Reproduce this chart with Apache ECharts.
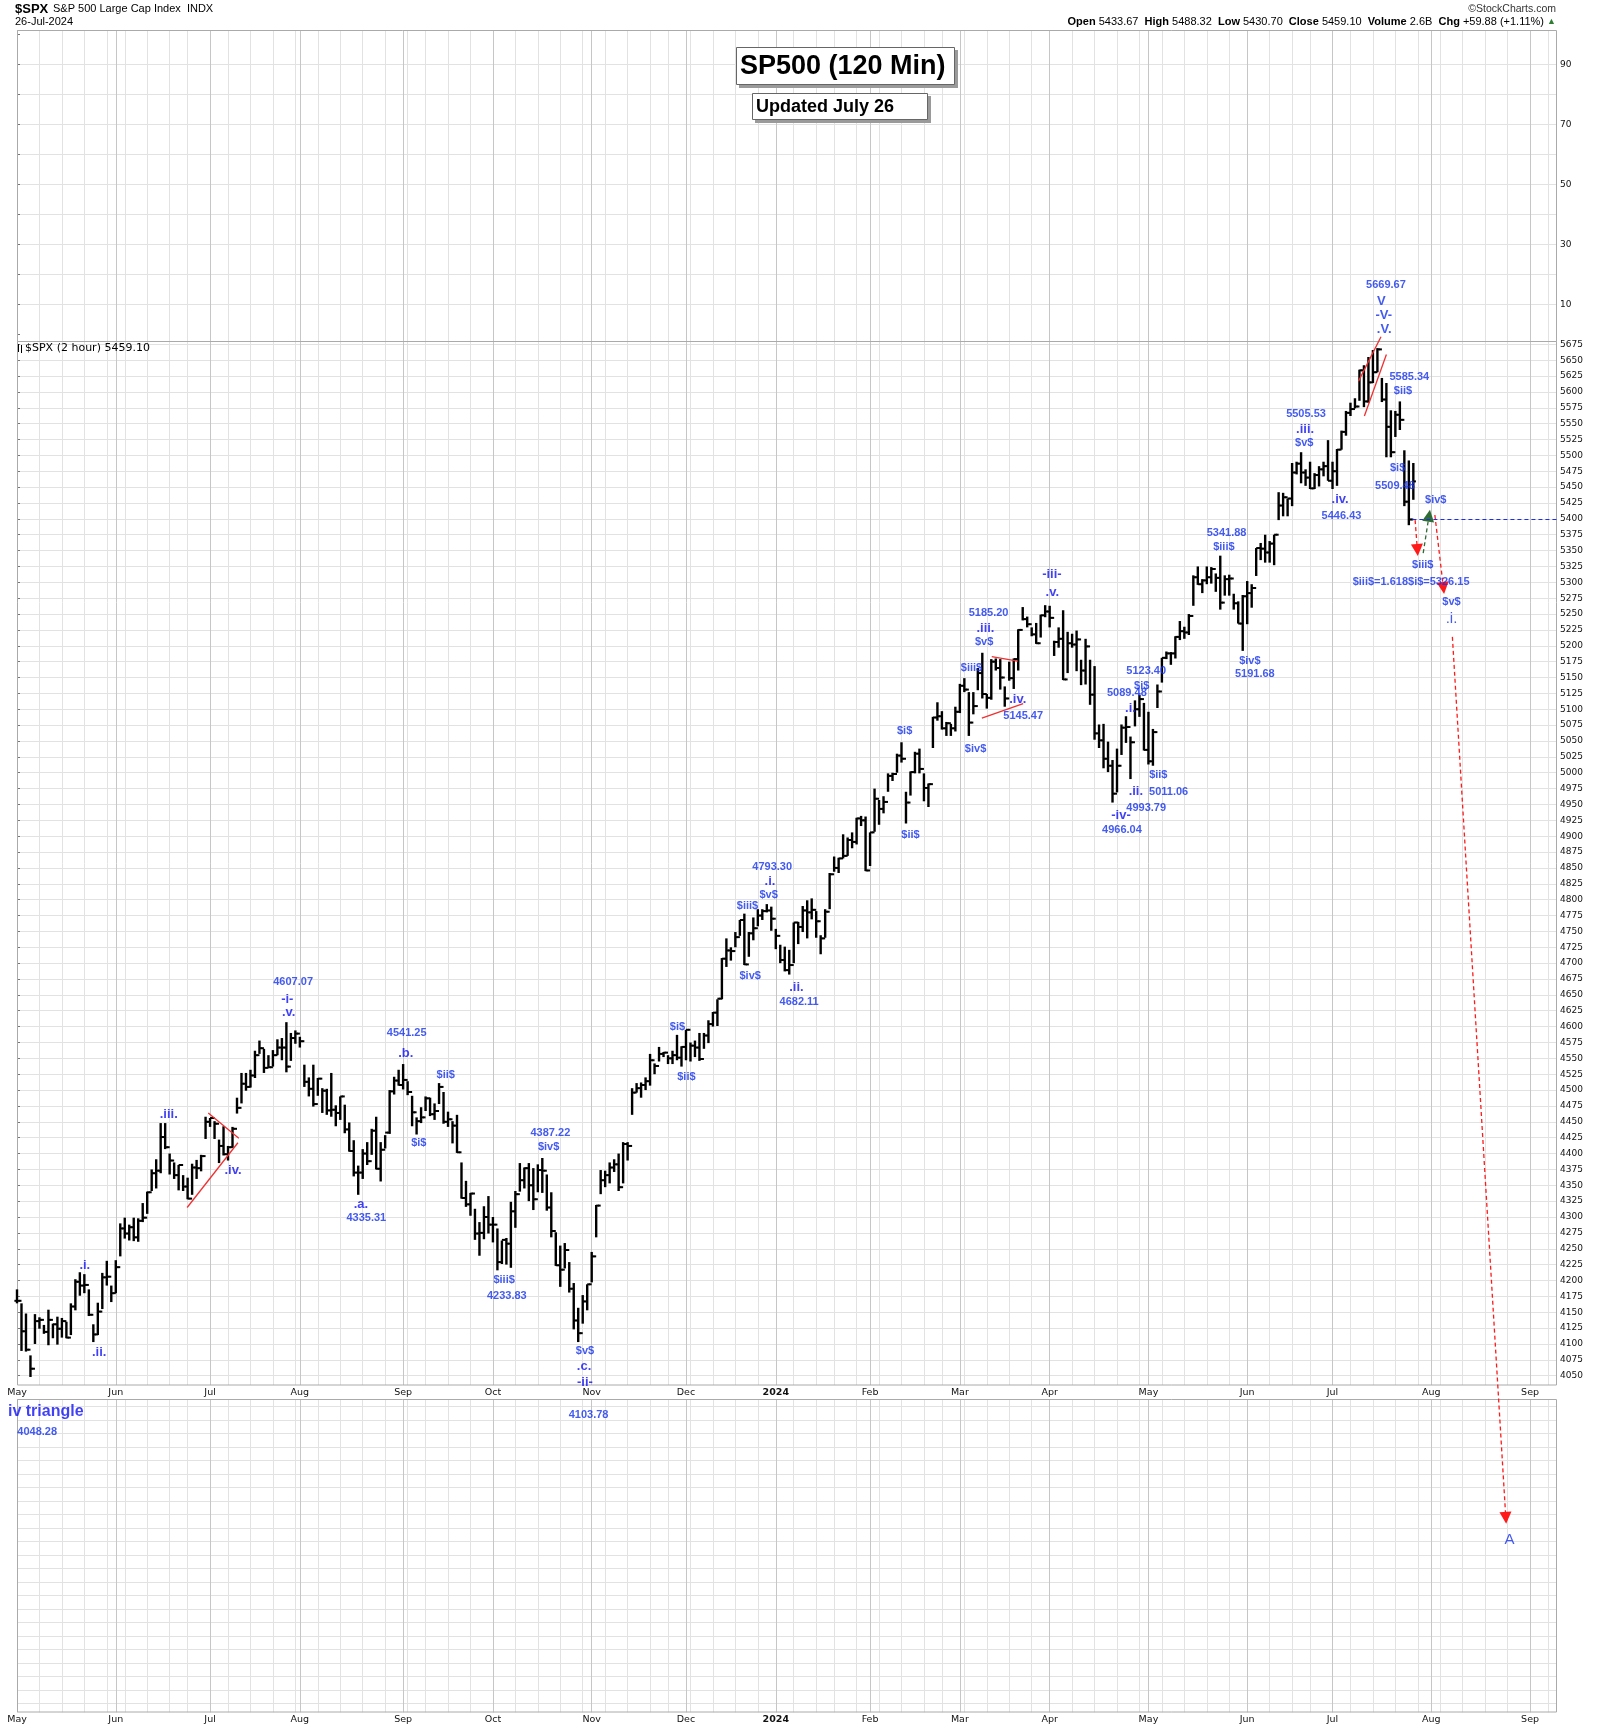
<!DOCTYPE html>
<html><head><meta charset="utf-8">
<script src="https://cdn.jsdelivr.net/npm/echarts@6/dist/echarts.min.js"></script>
<style>html,body{margin:0;padding:0;background:#fff}#c{width:1600px;height:1728px}</style>
</head><body><div id="c"></div>
<script>
// ---------- categories: trading sessions ----------
const holidays = ['2023-05-29','2023-06-19','2023-07-04','2023-09-04','2023-11-23','2023-12-25',
  '2024-01-01','2024-01-15','2024-02-19','2024-03-29','2024-05-27','2024-06-19','2024-07-04','2024-09-02'];
function buildSessions(start, count){
  const out=[]; const d=new Date(start+'T00:00:00Z');
  while(out.length<count){ const w=d.getUTCDay(); const s=d.toISOString().slice(0,10);
    if(w!==0&&w!==6&&holidays.indexOf(s)<0) out.push(s); d.setUTCDate(d.getUTCDate()+1); }
  return out;
}
const sessions = buildSessions('2023-05-01', 344);
const monthNames = ['Jan','Feb','Mar','Apr','May','Jun','Jul','Aug','Sep','Oct','Nov','Dec'];

// ---------- daily values ----------
const highs = [
 4186,4164,4148,4082,4147,4142,4130,4154,4132,4143,4141,4135,4164,4202,4213,4210,4186,4131,4165,4212,4231,4192,
 4232,4290,4299,4288,4299,4298,4322,4340,4375,4391,4448,4448,4400,4386,4382,4366,4362,4384,4390,4398,4458,
 4456,4451,4422,4443,4412,4442,4488,4527,4527,4532,4562,4578,4565,4555,4563,4580,4582,4607,4590,4594,
 4584,4540,4520,4540,4519,4503,4502,4527,4476,4490,4477,4449,4421,4381,4407,4418,4439,4458,4418,4429,4500,4521,4532,
 4541,4514,4491,4457,4473,4490,4488,4479,4511,4497,4466,4451,4461,4386,4357,4338,4313,4292,4317,4333,
 4300,4282,4263,4267,4324,4341,4385,4378,4385,4377,4383,4393,4367,4339,4276,4255,4259,4229,4196,4157,4177,4194,
 4245,4319,4374,4373,4386,4391,4400,4418,4418,4503,4511,4512,4520,4557,4542,4568,4560,4555,4562,4587,4569,
 4595,4575,4578,4590,4590,4610,4623,4643,4708,4739,4725,4749,4768,4778,4749,4772,4785,4785,4793,4789,
 4754,4729,4726,4721,4764,4765,4790,4799,4802,4782,4744,4785,4842,4868,4866,4903,4898,4906,4929,4932,4931,
 4906,4975,4957,4963,4999,5000,5030,5048,4970,5002,5033,5038,4999,4983,5088,5111,5097,5080,5077,5104,
 5140,5149,5127,5127,5165,5189,5124,5179,5180,5179,5136,5175,5180,5226,5261,5246,5229,5236,5249,5264,
 5263,5208,5229,5256,5222,5219,5224,5178,5211,5178,5168,5076,5077,5049,5020,5038,5076,5089,5057,5114,5123,5110,
 5096,5069,5139,5181,5191,5190,5215,5239,5230,5250,5311,5325,5305,5325,5324,5314,5342,5311,5312,5282,5270,5280,
 5302,5297,5354,5362,5375,5365,5375,5442,5441,5432,5488,5490,5505,5478,5490,5472,5483,5490,5524,
 5490,5510,5539,5570,5583,5590,5635,5642,5655,5666,5669,5622,5614,5571,5570,5585,5508,5492,5488
];
const lows = [
 4164,4089,4088,4048,4100,4124,4116,4098,4109,4099,4110,4109,4114,4153,4176,4180,4144,4103,4114,4155,4192,4166,
 4180,4238,4266,4263,4262,4261,4292,4305,4341,4345,4369,4407,4367,4360,4342,4341,4328,4335,4360,4372,4423,
 4442,4423,4385,4397,4389,4409,4463,4479,4499,4504,4519,4557,4527,4535,4537,4555,4547,4528,4546,4573,
 4567,4505,4490,4474,4491,4464,4461,4458,4443,4453,4432,4403,4364,4335,4360,4382,4398,4375,4356,4408,4431,4493,4507,
 4501,4492,4443,4430,4448,4467,4459,4453,4478,4447,4442,4416,4401,4329,4316,4302,4264,4239,4265,4274,
 4260,4216,4226,4225,4220,4283,4340,4345,4325,4311,4339,4338,4310,4268,4223,4190,4219,4181,4123,4103,4132,4153,
 4197,4268,4336,4347,4353,4371,4341,4353,4389,4461,4496,4488,4500,4507,4525,4545,4552,4541,4541,4547,4537,
 4547,4545,4552,4546,4565,4574,4600,4601,4643,4694,4704,4725,4743,4697,4710,4736,4758,4768,4780,4751,
 4722,4700,4687,4682,4700,4730,4749,4739,4769,4740,4714,4740,4785,4844,4842,4865,4869,4881,4887,4916,4845,
 4853,4907,4918,4936,4970,4987,5000,5016,4920,4964,4999,4999,4955,4946,5039,5082,5068,5058,5058,5065,
 5094,5127,5058,5092,5130,5117,5101,5115,5161,5131,5104,5145,5132,5161,5240,5229,5215,5203,5213,5245,
 5229,5184,5197,5146,5157,5197,5160,5138,5139,5107,5052,5039,5007,5001,4953,4969,5028,5047,4990,5073,5088,5035,
 5013,5011,5102,5142,5179,5170,5180,5209,5211,5217,5263,5296,5283,5297,5298,5285,5257,5279,5279,5257,5235,5192,
 5234,5260,5310,5335,5331,5331,5327,5398,5404,5404,5420,5470,5456,5452,5447,5447,5451,5467,5460,
 5447,5452,5509,5531,5562,5574,5586,5576,5583,5614,5631,5584,5497,5497,5529,5540,5420,5390,5430
];
const closes = [
 4168,4120,4091,4061,4136,4138,4119,4138,4131,4124,4136,4110,4159,4198,4192,4193,4146,4115,4151,4205,4206,4180,
 4221,4282,4274,4284,4268,4294,4299,4339,4369,4373,4426,4410,4389,4366,4382,4348,4329,4378,4377,4396,4450,
 4456,4447,4412,4399,4410,4439,4472,4510,4505,4523,4555,4566,4535,4536,4555,4567,4567,4537,4582,4589,
 4577,4513,4502,4478,4518,4499,4468,4469,4464,4490,4438,4404,4370,4370,4400,4388,4436,4376,4406,4433,4498,4515,4508,
 4516,4497,4465,4451,4457,4487,4462,4467,4505,4450,4454,4444,4402,4330,4320,4337,4274,4275,4300,4288,
 4288,4229,4264,4258,4309,4336,4358,4377,4350,4328,4374,4373,4315,4278,4224,4217,4248,4187,4137,4117,4167,4194,
 4238,4318,4358,4366,4378,4383,4347,4415,4412,4496,4503,4508,4514,4547,4538,4557,4559,4550,4555,4551,4568,
 4595,4570,4567,4549,4586,4604,4622,4644,4707,4720,4719,4741,4768,4698,4747,4755,4775,4782,4783,4770,
 4743,4705,4689,4697,4764,4757,4783,4780,4784,4766,4739,4781,4840,4850,4865,4869,4894,4891,4928,4925,4846,
 4906,4959,4943,4954,4995,4998,5027,5022,4953,5001,5030,5006,4976,4982,5087,5089,5070,5078,5070,5096,
 5137,5131,5079,5105,5157,5124,5118,5175,5165,5150,5117,5149,5179,5225,5242,5234,5218,5204,5248,5254,
 5244,5206,5211,5147,5204,5202,5210,5161,5199,5123,5062,5051,5022,5011,4967,5011,5071,5072,5048,5100,5116,5036,
 5018,5064,5128,5181,5188,5188,5214,5223,5221,5247,5308,5297,5303,5308,5321,5307,5268,5305,5306,5267,5235,5278,
 5283,5291,5354,5353,5347,5361,5375,5421,5434,5432,5473,5487,5473,5465,5448,5469,5478,5483,5460,
 5475,5509,5537,5567,5573,5577,5634,5585,5615,5631,5667,5588,5545,5505,5564,5556,5427,5399,5459
];

// wave annotations: [session position, price level, text, kind]
const waveLabels = [
 [15.1,4224,'.i.','w'],[18.3,4087,'.ii.','w'],[33.8,4462,'.iii.','w'],[48.1,4374,'.iv.','w'],
 [61.5,4670,'4607.07','n'],[60.2,4643,'-i-','w'],[60.5,4623,'.v.','w'],
 [86.8,4590,'4541.25','n'],[86.6,4558,'.b.','w'],[95.5,4524,'$ii$','n'],[89.5,4416,'$i$','n'],
 [76.6,4320,'.a.','w'],[77.8,4299,'4335.31','n'],
 [118.8,4433,'4387.22','n'],[118.4,4411,'$iv$','n'],[108.5,4201,'$iii$','n'],[109.1,4175,'4233.83','n'],
 [126.5,4089,'$v$','n'],[126.3,4065,'.c.','w'],[126.5,4039,'-ii-','w'],[127.3,3988,'4103.78','n'],
 [6.4,3993,'iv triangle','big'],[4.5,3961,'4048.28','n'],
 [147.1,4599,'$i$','n'],[149.1,4520,'$ii$','n'],
 [168.2,4852,'4793.30','n'],[167.7,4828,'.i.','w'],[167.4,4807,'$v$','n'],[162.7,4790,'$iii$','n'],
 [163.3,4680,'$iv$','n'],[173.6,4661,'.ii.','w'],[174.2,4639,'4682.11','n'],
 [197.7,5066,'$i$','n'],[199.0,4902,'$ii$','n'],
 [216.4,5252,'5185.20','n'],[215.7,5228,'.iii.','w'],[215.4,5206,'$v$','n'],[212.6,5165,'$iii$','n'],
 [213.5,5037,'$iv$','n'],[222.9,5116,'.iv.','w'],[224.1,5089,'5145.47','n'],
 [230.5,5313,'-iii-','w'],[230.6,5284,'.v.','w'],
 [251.5,5160,'5123.40','n'],[250.5,5137,'$i$','n'],[247.2,5125,'5089.48','n'],[248.0,5101,'.i.','w'],
 [254.2,4996,'$ii$','n'],[249.2,4970,'.ii.','w'],[256.5,4970,'5011.06','n'],[251.5,4945,'4993.79','n'],
 [245.9,4932,'-iv-','w'],[246.1,4910,'4966.04','n'],
 [269.4,5377,'5341.88','n'],[268.8,5356,'$iii$','n'],[274.6,5176,'$iv$','n'],[275.7,5155,'5191.68','n'],
 [287.1,5565,'5505.53','n'],[286.9,5541,'.iii.','w'],[286.7,5520,'$v$','n'],
 [294.7,5430,'.iv.','w'],[295.0,5404,'5446.43','n'],
 [304.9,5768,'5669.67','n'],[303.9,5743,'V','wb'],[304.4,5721,'-V-','wb'],[304.5,5699,'.V.','wb'],
 [310.1,5623,'5585.34','n'],[308.7,5602,'$ii$','n'],[307.5,5480,'$i$','n'],[306.9,5452,'5509.48','n'],
 [316.0,5430,'$iv$','n'],[313.1,5327,'$iii$','n'],[310.5,5300,'$iii$=1.618$i$=5326.15','n'],
 [319.5,5269,'$v$','n'],[319.5,5243,'.i.','w15'],[332.4,3792,'A','A']
];
// trend lines (solid red): [[pos,price],[pos,price]]
const trendLines = [
 [[37.9,4315],[49.2,4417]],[[42.6,4464],[49.4,4424]],
 [[217.1,5183],[222.9,5176]],[[214.9,5086],[224.1,5109]],
 [[298.8,5617],[303.8,5687]],[[300.1,5562],[305.0,5659]]
];
// projected paths (dashed arrows)
const redProjections = [
 [[311.4,5398],[311.9,5351]],[[315.8,5406],[317.7,5291]],[[319.7,5214],[331.6,3826]]
];
const greenProjections = [ [[313.2,5346],[314.5,5405]] ];
const supportLine = [ [[310.8,5400],[343,5400]] ];

// ---------- helpers ----------
const dow = s => new Date(s+'T00:00:00Z').getUTCDay();
const weekFirst = sessions.map((s,i)=> i===0 || dow(s) <= dow(sessions[i-1]));
const monthFirst = sessions.map((s,i)=> i===0 || s.slice(5,7)!==sessions[i-1].slice(5,7));
const monthLabel = v => { const m=+v.slice(5,7); return m===1 ? '{y|'+v.slice(0,4)+'}' : monthNames[m-1]; };
const FONT = "'Liberation Sans', Arial, sans-serif";
const AXFONT = "'DejaVu Sans', Verdana, sans-serif";
const BLUE = '#1432ee';
const GRID_LIGHT = '#e2e2e2', GRID_DARK = '#c6c6c6';
const kindStyle = {
  n:{fontSize:11,fontWeight:'bold'}, w:{fontSize:13,fontWeight:'bold'}, wb:{fontSize:13,fontWeight:'bold'},
  w15:{fontSize:15,fontWeight:'normal'}, big:{fontSize:16,fontWeight:'bold'}, A:{fontSize:15,fontWeight:'normal'}
};

const bars = highs.map((h,i)=>[i, lows[i], h, closes[i], i>0 ? closes[i-1] : closes[i]]);

function panelXAxes(gridIndex, labelMargin){
  return [
    {type:'category', gridIndex, data:sessions, boundaryGap:false, position:'top', silent:true,
     axisLine:{show:false}, axisTick:{show:false}, axisLabel:{show:false},
     splitLine:{show:true, interval:(i)=>weekFirst[i], lineStyle:{color:GRID_LIGHT, width:1}}},
    {type:'category', gridIndex, data:sessions, boundaryGap:false, position:'bottom', silent:true,
     axisLine:{show:false}, axisTick:{show:false},
     axisLabel: labelMargin==null ? {show:false} : {show:true, interval:(i)=>monthFirst[i], margin:labelMargin,
       formatter:monthLabel, color:'#111', fontFamily:AXFONT, fontSize:9.5,
       rich:{y:{fontWeight:'bold', fontFamily:AXFONT, fontSize:9.5, color:'#111'}}},
     splitLine:{show:true, interval:(i)=>monthFirst[i], lineStyle:{color:GRID_DARK, width:1}}},
  ];
}
const hiddenX = g => ({type:'value', gridIndex:g, min:0, max:343, show:false});
const hiddenY = g => ({type:'value', gridIndex:g, min:0, max:1, show:false});
const tickStyle = {show:true, length:3, lineStyle:{color:'#777'}};

const topLineColors = ['rgba(0,0,0,0)'].concat(Array(9).fill(GRID_LIGHT)).concat(['rgba(0,0,0,0)']);

const option = {
  animation:false,
  backgroundColor:'#fff',
  grid:[
    {left:17, top:30, width:1540, height:311.7},
    {left:17, top:34.3, width:1540, height:300},
    {left:17, top:341.7, width:1540, height:1043.3},
    {left:17, top:344.3, width:1540, height:1031.4},
    {left:17, top:1399.3, width:1540, height:313},
    {left:17, top:1406.7, width:1540, height:296.6}
  ],
  xAxis:[].concat(panelXAxes(0,null), [hiddenX(1)], panelXAxes(2,3), [hiddenX(3)], panelXAxes(4,2), [hiddenX(5)]),
  yAxis:[
    hiddenY(0),
    {type:'value', gridIndex:1, min:0, max:100, interval:10, position:'right', silent:true,
     axisLine:{show:false}, axisTick:tickStyle,
     axisLabel:{margin:3, formatter:v=>(v%20===10?String(v):''), fontFamily:AXFONT, fontSize:9, color:'#111'},
     splitLine:{show:true, lineStyle:{color:topLineColors, width:1}}},
    hiddenY(2),
    {type:'value', gridIndex:3, min:4050, max:5675, interval:25, position:'right', silent:true,
     axisLine:{show:false}, axisTick:tickStyle,
     axisLabel:{margin:3, formatter:v=>String(v), fontFamily:AXFONT, fontSize:9, color:'#111'},
     splitLine:{show:true, lineStyle:{color:GRID_LIGHT, width:1}}},
    hiddenY(4),
    {type:'value', gridIndex:5, min:0, max:22, interval:1, silent:true,
     axisLine:{show:false}, axisTick:{show:false}, axisLabel:{show:false},
     splitLine:{show:true, lineStyle:{color:GRID_LIGHT, width:1}}}
  ],
  series:[
    {type:'custom', name:'$SPX', xAxisIndex:5, yAxisIndex:3, clip:false, z:3, silent:true,
     encode:{x:0, y:[1,2]}, data:bars,
     renderItem:(params, api)=>{
       const i=api.value(0);
       const hi=api.coord([i, api.value(2)]), lo=api.coord([i, api.value(1)]);
       const cl=api.coord([i, api.value(3)]), op=api.coord([i, api.value(4)]);
       const x=hi[0];
       return {type:'group', children:[
         {type:'rect', shape:{x:x-1.2, y:hi[1], width:2.4, height:Math.max(1.5, lo[1]-hi[1])}, style:{fill:'#000'}},
         {type:'rect', shape:{x:x-2.6, y:op[1]-1, width:2.6, height:2}, style:{fill:'#000'}},
         {type:'rect', shape:{x:x, y:cl[1]-1, width:2.6, height:2}, style:{fill:'#000'}}
       ]};
     }},
    {type:'lines', coordinateSystem:'cartesian2d', xAxisIndex:5, yAxisIndex:3, clip:false, silent:true, z:4,
     symbol:'none', lineStyle:{color:'#f03030', width:1.3, opacity:1},
     data:trendLines.map(c=>({coords:c}))},
    {type:'lines', coordinateSystem:'cartesian2d', xAxisIndex:5, yAxisIndex:3, clip:false, silent:true, z:4,
     symbol:['none','triangle'], symbolSize:12, lineStyle:{color:'#ff1a1a', width:1.3, type:[4,3], opacity:1},
     data:redProjections.map(c=>({coords:c}))},
    {type:'lines', coordinateSystem:'cartesian2d', xAxisIndex:5, yAxisIndex:3, clip:false, silent:true, z:4,
     symbol:['none','triangle'], symbolSize:12, lineStyle:{color:'#2f6b35', width:1.3, type:[4,3], opacity:1},
     data:greenProjections.map(c=>({coords:c}))},
    {type:'lines', coordinateSystem:'cartesian2d', xAxisIndex:5, yAxisIndex:3, clip:false, silent:true, z:4,
     symbol:'none', lineStyle:{color:'#1a2cf0', width:1.2, type:[4,3], opacity:1},
     data:supportLine.map(c=>({coords:c}))},
    {type:'scatter', xAxisIndex:5, yAxisIndex:3, clip:false, silent:true, z:6, symbolSize:1,
     itemStyle:{color:'rgba(0,0,0,0)'},
     label:{show:true, position:'inside', formatter:'{b}', color:BLUE, fontFamily:FONT},
     labelLayout:{hideOverlap:false},
     data:waveLabels.map(a=>({name:a[2], value:[a[0],a[1]],
       label:Object.assign({color: (a[3]==='big'||a[3]==='w') ? '#1010f4' : BLUE}, kindStyle[a[3]])}))}
  ],
  graphic:[
    // panel frames
    {type:'rect', z:1, silent:true, shape:{x:17.5,y:30.5,width:1539,height:311}, style:{fill:'none',stroke:'#aaaaaa',lineWidth:1}},
    {type:'rect', z:1, silent:true, shape:{x:17.5,y:341.5,width:1539,height:1043.5}, style:{fill:'none',stroke:'#aaaaaa',lineWidth:1}},
    {type:'rect', z:1, silent:true, shape:{x:17.5,y:1399.5,width:1539,height:312.5}, style:{fill:'none',stroke:'#aaaaaa',lineWidth:1}},
    // header
    {type:'text', z:10, x:15, y:9, style:{text:'$SPX', fontFamily:FONT, fontSize:13, fontWeight:'bold', fill:'#000', verticalAlign:'middle', textVerticalAlign:'middle'}},
    {type:'text', z:10, x:53, y:9, style:{text:'S&P 500 Large Cap Index  INDX', fontFamily:FONT, fontSize:11, fill:'#000', verticalAlign:'middle', textVerticalAlign:'middle'}},
    {type:'text', z:10, x:15, y:22, style:{text:'26-Jul-2024', fontFamily:FONT, fontSize:11, fill:'#000', verticalAlign:'middle', textVerticalAlign:'middle'}},
    {type:'text', z:10, x:1556, y:9, style:{text:'\u00A9StockCharts.com', fontFamily:FONT, fontSize:10.5, fill:'#333', align:'right', textAlign:'right', verticalAlign:'middle', textVerticalAlign:'middle'}},
    {type:'text', z:10, x:1556, y:22, style:{
      text:'{b|Open} 5433.67  {b|High} 5488.32  {b|Low} 5430.70  {b|Close} 5459.10  {b|Volume} 2.6B  {b|Chg} +59.88 (+1.11%) {g|\u25B2}',
      fontFamily:FONT, fontSize:11, fill:'#000', align:'right', textAlign:'right', verticalAlign:'middle', textVerticalAlign:'middle',
      rich:{b:{fontFamily:FONT, fontSize:11, fontWeight:'bold', fill:'#000'}, g:{fontFamily:FONT, fontSize:9, fill:'#2e7d32'}}}},
    // title boxes
    {type:'rect', z:10, silent:true, shape:{x:739,y:50,width:219,height:38}, style:{fill:'#9a9a9a'}},
    {type:'rect', z:11, silent:true, shape:{x:736.5,y:47.5,width:218,height:37}, style:{fill:'#fff', stroke:'#666', lineWidth:1}},
    {type:'text', z:12, x:740, y:67, style:{text:'SP500 (120 Min)', fontFamily:FONT, fontSize:27, fontWeight:'bold', fill:'#000', verticalAlign:'middle', textVerticalAlign:'middle'}},
    {type:'rect', z:10, silent:true, shape:{x:755,y:96,width:176,height:27}, style:{fill:'#9a9a9a'}},
    {type:'rect', z:11, silent:true, shape:{x:752.5,y:93.5,width:175,height:26}, style:{fill:'#fff', stroke:'#666', lineWidth:1}},
    {type:'text', z:12, x:756, y:107, style:{text:'Updated July 26', fontFamily:FONT, fontSize:18, fontWeight:'bold', fill:'#000', verticalAlign:'middle', textVerticalAlign:'middle'}},
    // price legend
    {type:'polyline', z:10, silent:true, shape:{points:[[18.5,344],[18.5,352]]}, style:{stroke:'#000', lineWidth:1}},
    {type:'polyline', z:10, silent:true, shape:{points:[[21.5,345],[21.5,353]]}, style:{stroke:'#000', lineWidth:1}},
    {type:'text', z:10, x:25, y:348, style:{text:'$SPX (2 hour) 5459.10', fontFamily:AXFONT, fontSize:11, fill:'#000', verticalAlign:'middle', textVerticalAlign:'middle'}}
  ]
};
const chart = echarts.init(document.getElementById('c'), null, {renderer:'canvas', width:1600, height:1728});
chart.setOption(option);
</script></body></html>
